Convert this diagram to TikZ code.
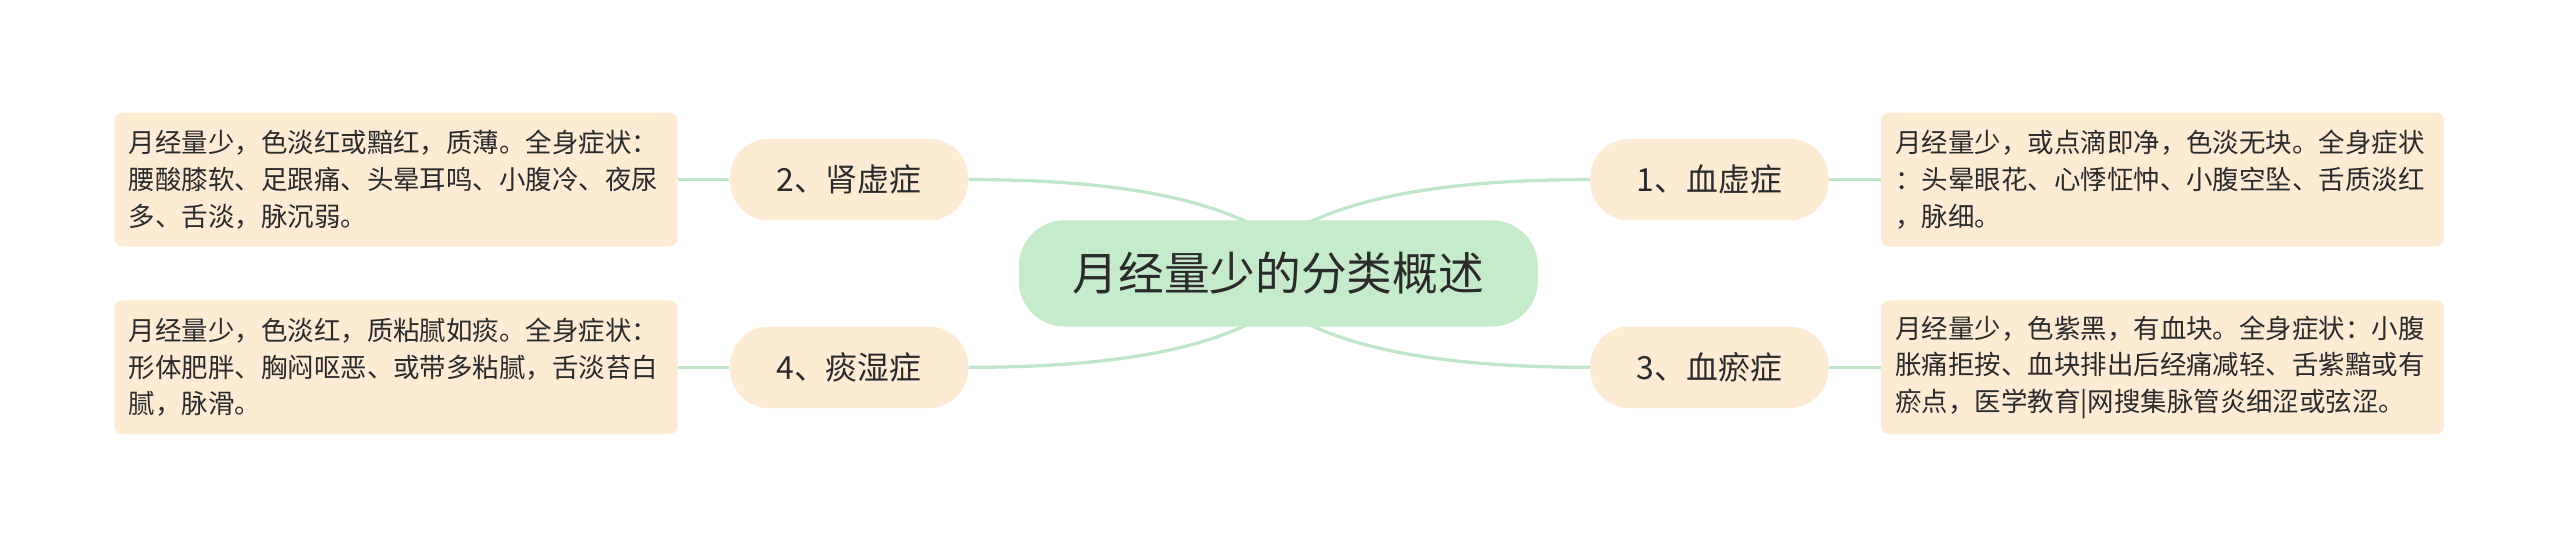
\documentclass[tikz,border=0pt]{standalone}
\usepackage{fontspec}
\setmainfont{Noto Sans CJK SC}
\usetikzlibrary{positioning,calc,backgrounds}
\definecolor{rootfill}{HTML}{C6EBCB}
\definecolor{leaffill}{HTML}{FDEBD4}
\definecolor{linkcol}{HTML}{BFE6C8}
\definecolor{txtcol}{HTML}{2B2B2B}

\begin{document}
\begin{tikzpicture}[x=1pt, y=-1pt,
    rootbox/.style={fill=rootfill, rounded corners=28pt, minimum width=318pt, minimum height=65pt,
      font=\fontsize{28}{32}\selectfont, text=txtcol},
    branchbox/.style={fill=leaffill, rounded corners=24pt, minimum width=146pt, minimum height=50pt,
      font=\fontsize{19.5}{23}\selectfont, text=txtcol},
    notebox/.style={fill=leaffill, rounded corners=5pt, minimum width=345pt, minimum height=82pt,
      text width=327pt, inner xsep=9pt, align=left, font=\fontsize{16.2}{22.5}\selectfont, text=txtcol},
    link/.style={draw=linkcol, line width=2pt}]
      % Sizes
      \def\Lx{520}    % left branch column
      \def\Rx{1047}   % right branch column
      \def\Ty{110}    % upper row
      \def\By{225}    % lower row

      \useasboundingbox (0,0) rectangle (1568,336);

      % Centre topic
      \node[rootbox] (root) at (783,167.5) {月经量少的分类概述};

      % Branches
      \node[branchbox] (xuexu)  at (\Rx,\Ty) {1、血虚症};
      \node[branchbox] (shenxu) at (\Lx,\Ty) {2、肾虚症};
      \node[branchbox] (xueyu)  at (\Rx,\By) {3、血瘀症};
      \node[branchbox] (tanshi) at (\Lx,\By) {4、痰湿症};

      % Notes
      \node[notebox] (n1) at (1324.5,\Ty) {月经量少，或点滴即净，色淡无块。全身症状\\：头晕眼花、心悸怔忡、小腹空坠、舌质淡红\\，脉细。};
      \node[notebox] (n2) at (242.5,\Ty) {月经量少，色淡红或黯红，质薄。全身症状：\\腰酸膝软、足跟痛、头晕耳鸣、小腹冷、夜尿\\多、舌淡，脉沉弱。};
      \node[notebox] (n3) at (1324.5,\By) {月经量少，色紫黑，有血块。全身症状：小腹\\胀痛拒按、血块排出后经痛减轻、舌紫黯或有\\瘀点，医学教育|网搜集脉管炎细涩或弦涩。};
      \node[notebox] (n4) at (242.5,\By) {月经量少，色淡红，质粘腻如痰。全身症状：\\形体肥胖、胸闷呕恶、或带多粘腻，舌淡苔白\\腻，脉滑。};

      % Links
      \begin{scope}[on background layer]
        \draw[link] (shenxu.east) .. controls +(70,0) and +(-40,-18) .. ($(root.north)+(-22,0)$) -- ++(9,4);
        \draw[link] (xuexu.west)  .. controls +(-70,0) and +(40,-18) .. ($(root.north)+(22,0)$) -- ++(-9,4);
        \draw[link] (tanshi.east) .. controls +(70,0) and +(-40,18) .. ($(root.south)+(-22,0)$) -- ++(9,-4);
        \draw[link] (xueyu.west)  .. controls +(-70,0) and +(40,18) .. ($(root.south)+(22,0)$) -- ++(-9,-4);
        \draw[link] (shenxu.west) -- (n2.east);
        \draw[link] (tanshi.west) -- (n4.east);
        \draw[link] (xuexu.east) -- (n1.west);
        \draw[link] (xueyu.east) -- (n3.west);
      \end{scope}
    \end{tikzpicture}
\end{document}
